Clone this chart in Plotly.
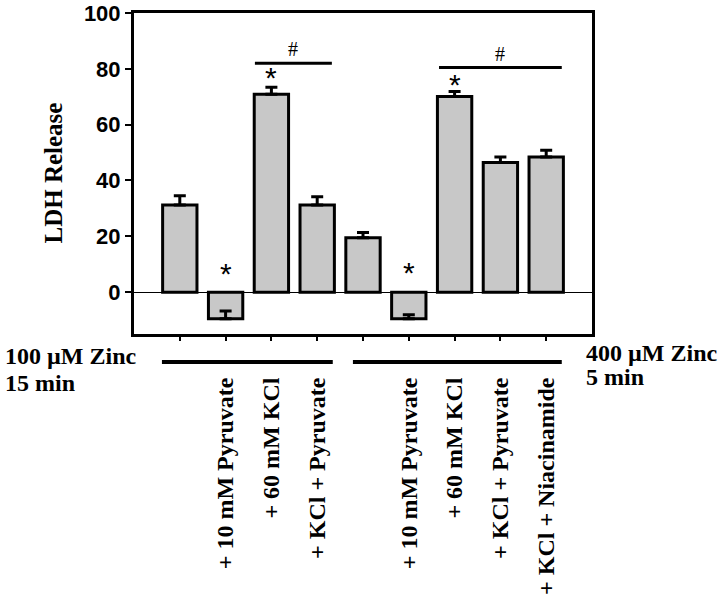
import plotly.graph_objects as go

# ---- data ----
positions = [1, 2, 3, 4, 5, 6, 7, 8, 9]
ldh_release = [31.2, -9.5, 70.9, 31.2, 19.5, -9.5, 70.1, 46.4, 48.4]
sem = [3.3, 2.7, 2.5, 3.0, 1.9, 1.4, 1.8, 2.0, 2.4]
tick_labels = ["", "+ 10 mM Pyruvate", "+ 60 mM KCl", "+ KCl + Pyruvate", "",
               "+ 10 mM Pyruvate", "+ 60 mM KCl", "+ KCl + Pyruvate", "+ KCl + Niacinamide"]
star_positions = [2, 3, 6, 7]
star_levels = [8.5, 78.7, 9.0, 76.0]
hash_spans = [(2.64, 4.32), (6.66, 9.34)]
hash_levels = [82.0, 80.5]
group_spans = [(0.61, 4.34), (4.78, 9.34)]
y_ticks = [0, 20, 40, 60, 80, 100]

SERIF = "Liberation Serif, Times New Roman, serif"
SANS = "Liberation Sans, Arial, sans-serif"

fig = go.Figure()
fig.add_trace(go.Bar(
    x=positions, y=ldh_release, width=0.75,
    marker=dict(color="#c8c8c8", line=dict(color="black", width=3)),
    error_y=dict(type="data", symmetric=False, array=sem,
                 arrayminus=[0] * len(sem), color="black", thickness=3, width=6),
    showlegend=False,
))

# significance bars and symbols
for (x0, x1), lvl in zip(hash_spans, hash_levels):
    fig.add_shape(type="line", xref="x", yref="y", x0=x0, x1=x1, y0=lvl, y1=lvl,
                  line=dict(color="black", width=3))
    fig.add_annotation(x=(x0 + x1) / 2, y=lvl + 0.3, xref="x", yref="y", text="#",
                       showarrow=False, yanchor="bottom",
                       font=dict(family=SERIF, size=20, color="black"))
for xp, lvl in zip(star_positions, star_levels):
    fig.add_annotation(x=xp, y=lvl, xref="x", yref="y", text="*", showarrow=False,
                       yanchor="middle", yshift=-5,
                       font=dict(family=SANS, size=30, color="black"))

# group lines under the axis
for x0, x1 in group_spans:
    fig.add_shape(type="line", xref="x", yref="paper", x0=x0, x1=x1,
                  y0=-0.087, y1=-0.087, line=dict(color="black", width=4))

# group captions
captions = [("100 \u00b5M Zinc", -131, -22), ("15 min", -131, -49),
            ("400 \u00b5M Zinc", 450, -19), ("5 min", 450, -43)]
for txt, xs, ys in captions:
    fig.add_annotation(x=0, y=0, xref="paper", yref="paper", text="<b>%s</b>" % txt,
                       showarrow=False, xanchor="left", yanchor="middle",
                       xshift=xs, yshift=ys,
                       font=dict(family=SERIF, size=24, color="black"))

# y-axis title
fig.add_annotation(x=0, y=0.5, xref="paper", yref="paper", text="<b>LDH Release</b>",
                   showarrow=False, textangle=-90, xanchor="center", yanchor="middle",
                   xshift=-81, font=dict(family=SERIF, size=25, color="black"))

fig.update_layout(
    width=720, height=600,
    margin=dict(l=134, r=128, t=13, b=266, autoexpand=False),
    paper_bgcolor="white", plot_bgcolor="white",
    bargap=0.25,
)
fig.update_xaxes(
    range=[0, 10], tickmode="array", tickvals=positions,
    ticktext=["<b>%s</b>" % t if t else "" for t in tick_labels],
    tickangle=-90, ticks="outside", ticklen=4, tickwidth=1.5, tickcolor="black",
    ticklabelstandoff=27, automargin=False,
    tickfont=dict(family=SERIF, size=24, color="black"),
    showline=True, linecolor="black", linewidth=3, mirror=True,
    showgrid=False, zeroline=False,
)
fig.update_yaxes(
    range=[-15, 100], tickmode="array", tickvals=y_ticks, automargin=False,
    ticks="outside", ticklen=6, tickwidth=2, tickcolor="black",
    tickfont=dict(family=SANS, size=22, color="black", weight="bold"),
    showline=True, linecolor="black", linewidth=3, mirror=True,
    showgrid=False, zeroline=True, zerolinecolor="black", zerolinewidth=1,
)

fig.write_html("out.html", config={"displayModeBar": False},
               post_script="document.body.style.margin='0px';")
